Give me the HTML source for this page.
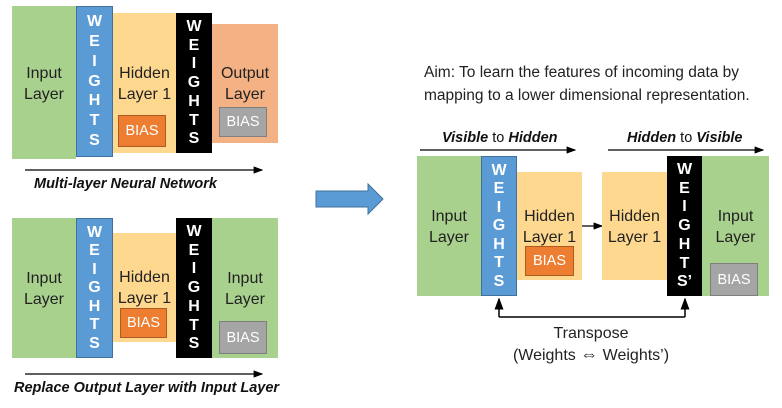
<!DOCTYPE html><html><head><style>
body{margin:0;width:782px;height:408px;background:#fff;position:relative;overflow:hidden;font-family:"Liberation Sans",sans-serif}
.b{position:absolute;box-sizing:border-box}
.g{background:#a9d18e}.y{background:#ffd890}.o{background:#f4b183}
.bl{background:#5b9bd5;border:1px solid #41719c}.k{background:#000}
.t{position:absolute;font-size:16px;color:#222;text-align:center;line-height:21px}
.bias{position:absolute;box-sizing:border-box;color:#fff;font-size:14.5px;display:flex;align-items:center;justify-content:center}
.bo{background:#ed7d31;border:1px solid #ae5a21}.bg{background:#a5a5a5;border:1px solid #7f7f7f}
.w{display:flex;flex-direction:column;justify-content:space-evenly;align-items:center;color:#fff;font-weight:bold;font-size:16px;padding:4px 0}
.cap{position:absolute;font-size:14.5px;font-weight:bold;font-style:italic;color:#111;white-space:nowrap}
</style></head><body>
<div class="b g" style="left:12px;top:6px;width:64px;height:153px"></div>
<div class="t" style="left:12px;top:63px;width:64px">Input<br>Layer</div>
<div class="b y" style="left:113px;top:13px;width:63px;height:140px"></div>
<div class="t" style="left:113px;top:63px;width:63px">Hidden<br>Layer 1</div>
<div class="bias bo" style="left:118px;top:115px;width:48px;height:32px">BIAS</div>
<div class="b o" style="left:212px;top:24px;width:66px;height:119px"></div>
<div class="t" style="left:212px;top:63px;width:66px">Output<br>Layer</div>
<div class="bias bg" style="left:219px;top:107px;width:48px;height:30px">BIAS</div>
<div class="b bl w" style="left:76px;top:6px;width:37px;height:151px"><span>W</span><span>E</span><span>I</span><span>G</span><span>H</span><span>T</span><span>S</span></div>
<div class="b k w" style="left:176px;top:13px;width:36px;height:140px"><span>W</span><span>E</span><span>I</span><span>G</span><span>H</span><span>T</span><span>S</span></div>
<svg class="b" style="left:0;top:0" width="782" height="408">
<defs><marker id="a" markerWidth="8" markerHeight="6" refX="7" refY="3" orient="auto"><path d="M0,0L8,3L0,6z" fill="#000"/></marker></defs>
<line x1="25" y1="170" x2="262" y2="170" stroke="#000" stroke-width="1.2" marker-end="url(#a)"/>
<line x1="25" y1="374" x2="262" y2="374" stroke="#000" stroke-width="1.2" marker-end="url(#a)"/>
<line x1="420" y1="150" x2="575" y2="150" stroke="#000" stroke-width="1.2" marker-end="url(#a)"/>
<line x1="608" y1="150" x2="763" y2="150" stroke="#000" stroke-width="1.2" marker-end="url(#a)"/>
<line x1="582" y1="226" x2="602" y2="226" stroke="#000" stroke-width="1.2" marker-end="url(#a)"/>
<path d="M499,317H685" stroke="#000" stroke-width="1.5" fill="none"/>
<line x1="499" y1="317" x2="499" y2="299" stroke="#000" stroke-width="1.5" marker-end="url(#a)"/>
<line x1="685" y1="317" x2="685" y2="299" stroke="#000" stroke-width="1.5" marker-end="url(#a)"/>
<path d="M316,191H368V184L383,199L368,214V207H316Z" fill="#5b9bd5" stroke="#41719c"/>
</svg>
<div class="cap" style="left:34px;top:176px">Multi-layer Neural Network</div>
<div class="b g" style="left:12px;top:218px;width:64px;height:140px"></div>
<div class="t" style="left:12px;top:268px;width:64px">Input<br>Layer</div>
<div class="b y" style="left:113px;top:233px;width:63px;height:109px"></div>
<div class="t" style="left:113px;top:267px;width:63px">Hidden<br>Layer 1</div>
<div class="bias bo" style="left:120px;top:308px;width:47px;height:30px">BIAS</div>
<div class="b g" style="left:212px;top:218px;width:66px;height:140px"></div>
<div class="t" style="left:212px;top:268px;width:66px">Input<br>Layer</div>
<div class="bias bg" style="left:219px;top:321px;width:48px;height:33px">BIAS</div>
<div class="b bl w" style="left:76px;top:218px;width:37px;height:140px"><span>W</span><span>E</span><span>I</span><span>G</span><span>H</span><span>T</span><span>S</span></div>
<div class="b k w" style="left:176px;top:218px;width:36px;height:140px"><span>W</span><span>E</span><span>I</span><span>G</span><span>H</span><span>T</span><span>S</span></div>
<div class="cap" style="left:14px;top:380px">Replace Output Layer with Input Layer</div>
<div class="t" style="left:424px;top:61px;text-align:left;font-size:15.5px;line-height:23px;white-space:nowrap">Aim: To learn the features of incoming data by<br>mapping to a lower dimensional representation.</div>
<div class="cap" style="left:442px;top:130px"><span>Visible</span><span style="font-weight:normal;font-style:normal"> to </span><span>Hidden</span></div>
<div class="cap" style="left:627px;top:130px"><span>Hidden</span><span style="font-weight:normal;font-style:normal"> to </span><span>Visible</span></div>
<div class="b g" style="left:417px;top:156px;width:64px;height:140px"></div>
<div class="t" style="left:417px;top:206px;width:64px">Input<br>Layer</div>
<div class="b y" style="left:517px;top:172px;width:65px;height:108px"></div>
<div class="t" style="left:517px;top:206px;width:65px">Hidden<br>Layer 1</div>
<div class="bias bo" style="left:525px;top:246px;width:49px;height:30px">BIAS</div>
<div class="b y" style="left:602px;top:172px;width:65px;height:108px"></div>
<div class="t" style="left:602px;top:206px;width:65px">Hidden<br>Layer 1</div>
<div class="b g" style="left:702px;top:156px;width:67px;height:140px"></div>
<div class="t" style="left:702px;top:206px;width:67px">Input<br>Layer</div>
<div class="bias bg" style="left:710px;top:263px;width:48px;height:33px">BIAS</div>
<div class="b bl w" style="left:481px;top:156px;width:36px;height:140px"><span>W</span><span>E</span><span>I</span><span>G</span><span>H</span><span>T</span><span>S</span></div>
<div class="b k w" style="left:667px;top:156px;width:35px;height:140px"><span>W</span><span>E</span><span>I</span><span>G</span><span>H</span><span>T</span><span>S’</span></div>
<div class="t" style="left:491px;top:323px;width:200px">Transpose<br>(Weights <span style="font-size:18px">⇔</span> Weights’)</div>
</body></html>
